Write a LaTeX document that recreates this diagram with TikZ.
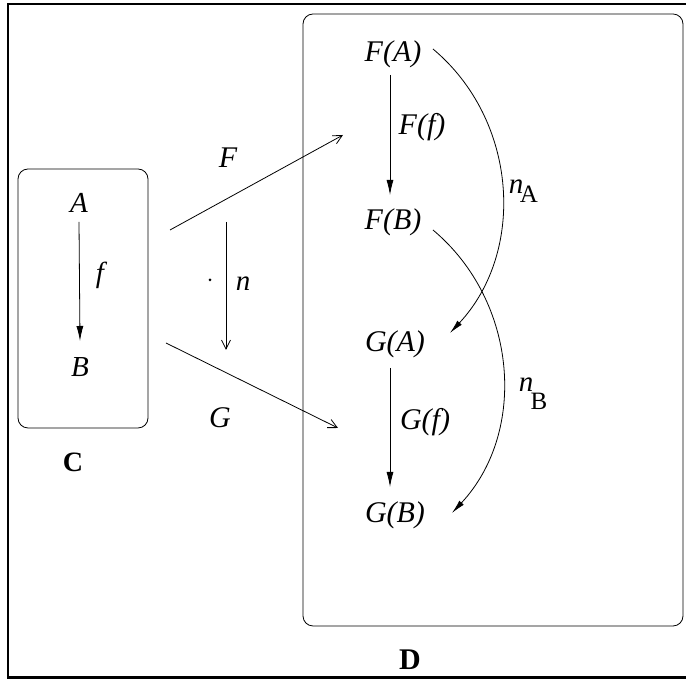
\documentclass[tikz,border=0pt]{standalone}
\usepackage{fontspec}
\setmainfont{Liberation Serif}
\usetikzlibrary{arrows.meta}
\tikzset{
  lab/.style={anchor=base, inner sep=0pt, font=\fontsize{30}{34}\selectfont\itshape},
  labs/.style={anchor=base, inner sep=0pt, font=\fontsize{29}{33}\selectfont\itshape},
  cat/.style={anchor=base, inner sep=0pt, font=\fontsize{28}{32}\selectfont\bfseries},
  sub/.style={anchor=base, inner sep=0pt, font=\fontsize{25}{28}\selectfont},
  solidarr/.style={line width=0.8pt, -{Latex[length=15pt,width=7pt]}},
  openarr/.style={line width=0.8pt, -{Straight Barb[length=9pt,width=9pt]}},
  box/.style={line width=0.8pt, rounded corners=10pt},
}
\begin{document}
\begin{tikzpicture}[x=1pt,y=1pt]
\useasboundingbox (0,0) rectangle (686,679);
\clip (0,0) rectangle (686,679);
% outer frame
\draw[line width=2.2pt] (8,1.5) rectangle (700,675);
% category boxes
\draw[box] (18,251) rectangle (148,510);
\draw[box] (303,53) rectangle (683,665);
% category C
\node[labs] (A) at (79,466) {A};
\node[labs] (B) at (80,302) {B};
\node[labs] (f) at (100,396) {f};
\node[cat] (C) at (73,207) {C};
\draw[solidarr] ([yshift=-9pt]A.base) -- ([yshift=36pt]B.base);
% functors
\node[lab] (Flab) at (228,511) {F};
\node[lab] (Glab) at (220,251) {G};
\coordinate (Fs) at (170,449);
\coordinate (Fe) at (343,544);
\coordinate (Gs) at (166,336);
\coordinate (Ge) at (338,251);
\draw[openarr] (Fs) -- (Fe);
\draw[openarr] (Gs) -- (Ge);
% natural transformation
\coordinate (ns) at (226,457);
\coordinate (ne) at (226,329);
\draw[openarr] (ns) -- (ne);
\fill (210,399) circle (1.5pt);
\node[labs] (nlab) at (243,388) {n};
% category D
\node[lab] (FA) at (393,617) {F(A)};
\node[lab] (FB) at (393,449) {F(B)};
\node[lab] (GA) at (395,327) {G(A)};
\node[lab] (GB) at (395,156) {G(B)};
\node[lab] (Ff) at (422,544) {F(f)};
\node[lab] (Gf) at (425,249) {G(f)};
\node[cat,font=\fontsize{30}{34}\selectfont\bfseries] (D) at (410,9) {D};
\draw[solidarr] ([xshift=-3pt,yshift=-13pt]FA.base) -- ([xshift=-3pt,yshift=35pt]FB.base);
\draw[solidarr] ([xshift=-5pt,yshift=-16pt]GA.base) -- ([xshift=-5pt,yshift=36pt]GB.base);
% components
\draw[line width=0.8pt, -{Latex[length=14pt,width=6pt]}] ([xshift=40pt,yshift=13pt]FA.base) to[out=-40,in=47] ([xshift=55pt,yshift=19pt]GA.base);
\draw[line width=0.8pt, -{Latex[length=14pt,width=6pt]}] ([xshift=40pt,yshift=0pt]FB.base) to[out=-40,in=47] ([xshift=57pt,yshift=10pt]GB.base);
\node[lab,font=\fontsize{29}{33}\selectfont\itshape] (nA) at (516,485) {n};
\node[sub] (nAsub) at (529,476) {A};
\node[lab,font=\fontsize{29}{33}\selectfont\itshape] (nB) at (526,287) {n};
\node[sub] (nBsub) at (539,269) {B};
\end{tikzpicture}
\end{document}
